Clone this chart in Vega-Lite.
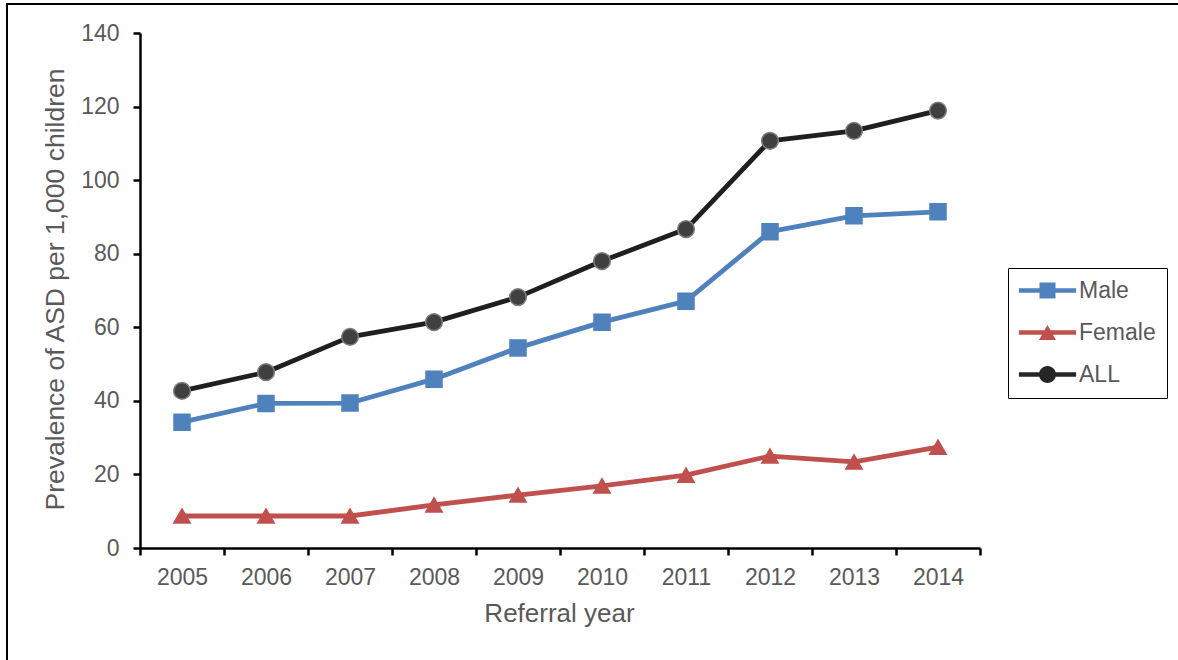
{
  "$schema": "https://vega.github.io/schema/vega-lite/v6.json",
  "width": 1200,
  "height": 700,
  "autosize": {"type": "none"},
  "padding": {"left": 7, "top": 4, "right": 0, "bottom": 0},
  "background": "white",
  "config": {
    "view": {"stroke": "black", "strokeWidth": 2},
    "font": "Liberation Sans",
    "axis": {
      "grid": false,
      "domain": true,
      "domainColor": "black",
      "domainWidth": 2.5,
      "labelFont": "Liberation Sans",
      "titleFont": "Liberation Sans",
      "labelColor": "#595959",
      "titleColor": "#595959",
      "titleFontWeight": "normal",
      "tickColor": "black",
      "tickWidth": 2.5
    }
  },
  "datasets": {
    "prevalence": [
      {"year": "2005", "series": "Male", "value": 34.2},
      {"year": "2006", "series": "Male", "value": 39.3},
      {"year": "2007", "series": "Male", "value": 39.4},
      {"year": "2008", "series": "Male", "value": 45.9},
      {"year": "2009", "series": "Male", "value": 54.4},
      {"year": "2010", "series": "Male", "value": 61.4},
      {"year": "2011", "series": "Male", "value": 67.1},
      {"year": "2012", "series": "Male", "value": 86.0},
      {"year": "2013", "series": "Male", "value": 90.3},
      {"year": "2014", "series": "Male", "value": 91.4},
      {"year": "2005", "series": "Female", "value": 8.7},
      {"year": "2006", "series": "Female", "value": 8.7},
      {"year": "2007", "series": "Female", "value": 8.7},
      {"year": "2008", "series": "Female", "value": 11.7},
      {"year": "2009", "series": "Female", "value": 14.4},
      {"year": "2010", "series": "Female", "value": 16.9},
      {"year": "2011", "series": "Female", "value": 19.8},
      {"year": "2012", "series": "Female", "value": 25.0},
      {"year": "2013", "series": "Female", "value": 23.4},
      {"year": "2014", "series": "Female", "value": 27.4},
      {"year": "2005", "series": "ALL", "value": 42.7},
      {"year": "2006", "series": "ALL", "value": 47.8},
      {"year": "2007", "series": "ALL", "value": 57.4},
      {"year": "2008", "series": "ALL", "value": 61.4},
      {"year": "2009", "series": "ALL", "value": 68.2},
      {"year": "2010", "series": "ALL", "value": 78.0},
      {"year": "2011", "series": "ALL", "value": 86.7},
      {"year": "2012", "series": "ALL", "value": 110.7},
      {"year": "2013", "series": "ALL", "value": 113.4},
      {"year": "2014", "series": "ALL", "value": 118.9}
    ]
  },
  "layer": [
    {
      "data": {"name": "prevalence"},
      "mark": {"type": "line", "strokeWidth": 4.8, "strokeJoin": "round", "strokeCap": "round"},
      "encoding": {
        "x": {
          "field": "year",
          "type": "ordinal",
          "scale": {
            "type": "band",
            "domain": ["2005", "2006", "2007", "2008", "2009", "2010", "2011", "2012", "2013", "2014"],
            "range": [133, 973],
            "paddingInner": 0,
            "paddingOuter": 0
          },
          "axis": {
            "orient": "bottom",
            "offset": -156,
            "tickBand": "extent",
            "tickSize": 7,
            "labelAngle": 0,
            "labelFontSize": 23,
            "labelPadding": 11,
            "title": "Referral year",
            "titleFontSize": 26,
            "titleX": 552,
            "titleY": 73.7,
            "titleAlign": "center",
            "titleBaseline": "alphabetic"
          }
        },
        "y": {
          "field": "value",
          "type": "quantitative",
          "scale": {"domain": [0, 140], "range": [544, 29], "nice": false, "zero": false},
          "axis": {
            "orient": "left",
            "offset": -133,
            "values": [0, 20, 40, 60, 80, 100, 120, 140],
            "tickSize": 7,
            "labelFontSize": 23,
            "labelPadding": 14,
            "title": "Prevalence of ASD per 1,000 children",
            "titleFontSize": 26.5,
            "titleAngle": 270,
            "titleX": -76.7,
            "titleY": 285,
            "titleAlign": "center",
            "titleBaseline": "alphabetic"
          }
        },
        "color": {
          "field": "series",
          "type": "nominal",
          "scale": {"domain": ["Male", "Female", "ALL"], "range": ["#4f81bd", "#c0504d", "#1f1f1f"]},
          "legend": null
        }
      }
    },
    {
      "data": {"name": "prevalence"},
      "mark": {"type": "point", "filled": true, "opacity": 1, "strokeWidth": 1.5},
      "encoding": {
        "x": {"field": "year", "type": "ordinal"},
        "y": {"field": "value", "type": "quantitative"},
        "shape": {
          "field": "series",
          "type": "nominal",
          "scale": {"domain": ["Male", "Female", "ALL"], "range": ["square", "triangle-up", "circle"]},
          "legend": null
        },
        "size": {
          "field": "series",
          "type": "nominal",
          "scale": {"domain": ["Male", "Female", "ALL"], "range": [256, 280, 225]},
          "legend": null
        },
        "fill": {
          "field": "series",
          "type": "nominal",
          "scale": {"domain": ["Male", "Female", "ALL"], "range": ["#4f81bd", "#c0504d", "#404040"]},
          "legend": null
        },
        "stroke": {
          "field": "series",
          "type": "nominal",
          "scale": {"domain": ["Male", "Female", "ALL"], "range": ["#4f81bd", "#c0504d", "#808080"]},
          "legend": null
        }
      }
    },
    {
      "data": {"name": "prevalence"},
      "transform": [{"filter": "false"}],
      "mark": {"type": "point", "filled": true, "opacity": 1, "size": 256},
      "encoding": {
        "color": {
          "field": "series",
          "type": "nominal",
          "scale": {"domain": ["Male", "Female", "ALL"], "range": ["#4f81bd", "#c0504d", "#262626"]},
          "legend": {
            "title": null,
            "orient": "none",
            "legendX": 1001,
            "legendY": 264,
            "padding": 11,
            "strokeColor": "black",
            "rowPadding": 18,
            "labelOffset": 37,
            "labelFont": "Liberation Sans",
            "labelFontSize": 23,
            "labelColor": "#595959",
            "symbolSize": 256,
            "symbolStrokeWidth": 0,
            "symbolOpacity": 1
          }
        },
        "shape": {
          "field": "series",
          "type": "nominal",
          "scale": {
            "domain": ["Male", "Female", "ALL"],
            "range": [
              "M-1.45,-0.28H5.7V0.28H-1.45Z M1.125,-1H3.125V1H1.125Z",
              "M-1.45,-0.28H5.7V0.28H-1.45Z M2.125,-0.9375L3.1875,0.9375L1.0625,0.9375Z",
              "M-1.45,-0.28H5.7V0.28H-1.45Z M1.0625,0A1.0625,1.0625 0 1,1 3.1875,0A1.0625,1.0625 0 1,1 1.0625,0Z"
            ]
          },
          "legend": {
            "title": null,
            "orient": "none",
            "legendX": 1001,
            "legendY": 264,
            "padding": 11,
            "strokeColor": "black",
            "rowPadding": 18,
            "labelOffset": 37,
            "labelFont": "Liberation Sans",
            "labelFontSize": 23,
            "labelColor": "#595959",
            "symbolSize": 256,
            "symbolStrokeWidth": 0,
            "symbolOpacity": 1
          }
        }
      }
    }
  ],
  "resolve": {"scale": {"color": "independent", "shape": "independent", "size": "independent", "fill": "independent", "stroke": "independent"}}
}
